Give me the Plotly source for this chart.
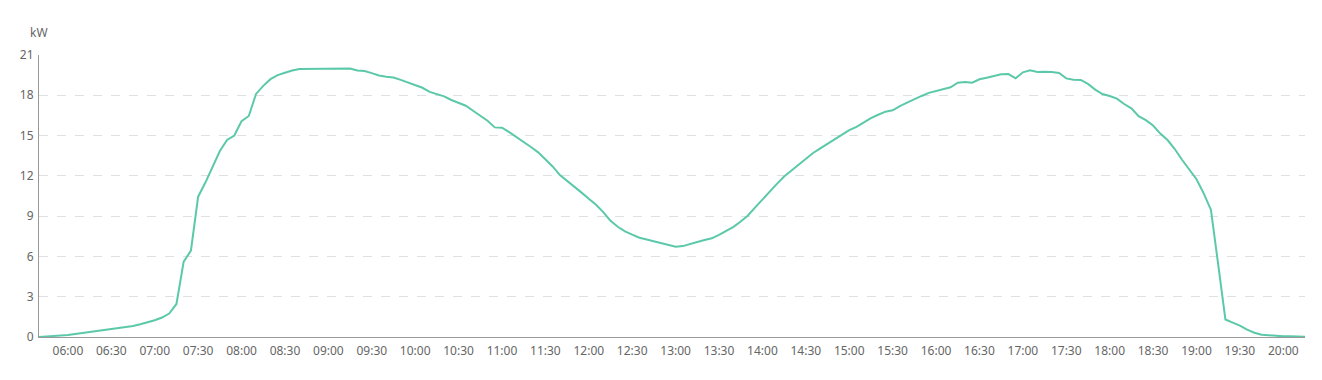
import plotly.graph_objects as go
import pandas as pd

start_time = "2024-01-01 05:40"
interval_minutes = 5

power_kw = [
    0.00, 0.03, 0.07, 0.11, 0.15, 0.22, 0.29, 0.36, 0.43, 0.50,
    0.57, 0.64, 0.72, 0.82, 0.95, 1.08, 1.25, 1.45, 1.75, 2.46,
    5.61, 6.43, 10.45, 11.50, 12.70, 13.85, 14.67, 15.00, 16.08, 16.46,
    18.10, 18.70, 19.20, 19.50, 19.68, 19.85, 19.95, 19.95, 20.00, 20.00,
    20.00, 20.00, 20.00, 20.00, 19.84, 19.80, 19.65, 19.48, 19.38, 19.33,
    19.15, 18.95, 18.75, 18.56, 18.25, 18.10, 17.92, 17.65, 17.45, 17.22,
    16.85, 16.45, 16.10, 15.61, 15.59, 15.25, 14.90, 14.55, 14.15, 13.75,
    13.25, 12.70, 12.06, 11.60, 11.19, 10.75, 10.30, 9.85, 9.30, 8.65,
    8.21, 7.87, 7.62, 7.39, 7.26, 7.12, 7.00, 6.82, 6.72, 6.77,
    6.95, 7.08, 7.22, 7.35, 7.60, 7.90, 8.20, 8.60, 9.05, 9.65,
    10.25, 10.85, 11.40, 11.95, 12.40, 12.80, 13.25, 13.70, 14.05, 14.38,
    14.70, 15.08, 15.40, 15.65, 15.98, 16.30, 16.55, 16.78, 16.88, 17.20,
    17.45, 17.72, 17.95, 18.18, 18.33, 18.50, 18.60, 18.94, 18.99, 18.94,
    19.19, 19.31, 19.41, 19.56, 19.58, 19.26, 19.71, 19.86, 19.73, 19.76,
    19.73, 19.66, 19.26, 19.16, 19.14, 18.85, 18.42, 18.09, 17.95, 17.75,
    17.35, 17.03, 16.45, 16.15, 15.75, 15.15, 14.67, 14.00, 13.20, 12.50,
    11.75, 10.70, 9.46, 5.40, 1.30, 1.07, 0.85, 0.55, 0.32, 0.17,
    0.12, 0.08, 0.05, 0.05, 0.03, 0.02,
]

y_ticks = [0, 3, 6, 9, 12, 15, 18, 21]
unit_label = "kW"

times = pd.date_range(start=start_time, periods=len(power_kw), freq=f"{interval_minutes}min")

fig = go.Figure()
fig.add_trace(go.Scatter(
    x=times, y=power_kw, mode="lines",
    line=dict(color="#5BC9A9", width=2),
    hoverinfo="x+y", showlegend=False,
))

fig.update_layout(
    width=1322, height=380,
    margin=dict(l=39, r=17, t=55, b=43),
    paper_bgcolor="white", plot_bgcolor="white",
    font=dict(family="Noto Sans, Open Sans, sans-serif", size=12, color="#666666"),
    annotations=[dict(
        text=unit_label, xref="paper", yref="paper", x=0, y=1, xanchor="center",
        yanchor="bottom", yshift=12, showarrow=False,
        font=dict(size=12, color="#666666"),
    )],
)

fig.update_xaxes(
    type="date",
    range=[times[0], times[-1]],
    tickformat="%H:%M",
    tick0="2024-01-01 06:00",
    dtick=30 * 60 * 1000,
    showgrid=False,
    showline=True, linecolor="#999999", linewidth=1,
    ticks="outside", ticklen=3, tickcolor="rgba(0,0,0,0)",
    tickfont=dict(size=12, color="#666666"),
    zeroline=False,
)

fig.update_yaxes(
    range=[0, 21],
    tickvals=y_ticks,
    showgrid=True, gridcolor="#E0E0E0", griddash="dash", gridwidth=1,
    showline=True, linecolor="#999999", linewidth=1,
    ticks="outside", ticklen=2, tickcolor="rgba(0,0,0,0)",
    tickfont=dict(size=12, color="#666666"),
    zeroline=False,
)

fig.write_html("out.html")
